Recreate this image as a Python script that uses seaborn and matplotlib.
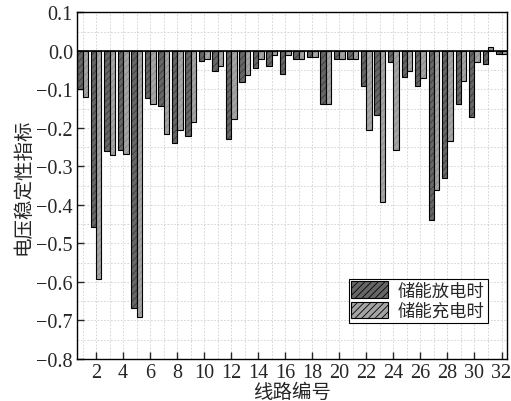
import numpy as np
import pandas as pd
import matplotlib
matplotlib.use("Agg")
import matplotlib.pyplot as plt
import seaborn as sns
from matplotlib.ticker import MultipleLocator

lines = list(range(1, 33))
discharge = [-0.098, -0.456, -0.261, -0.256, -0.667, -0.123, -0.144, -0.240, -0.222, -0.026,
             -0.051, -0.229, -0.081, -0.044, -0.039, -0.059, -0.020, -0.015, -0.139, -0.022,
             -0.020, -0.090, -0.167, -0.029, -0.068, -0.092, -0.439, -0.330, -0.138, -0.172,
             -0.033, -0.007]
charge = [-0.119, -0.593, -0.270, -0.267, -0.691, -0.138, -0.215, -0.205, -0.185, -0.020,
          -0.038, -0.177, -0.063, -0.022, -0.011, -0.010, -0.020, -0.015, -0.139, -0.022,
          -0.020, -0.205, -0.391, -0.257, -0.052, -0.071, -0.362, -0.235, -0.077, -0.029,
          0.010, -0.007]
series_names = ["储能放电时", "储能充电时"]

df = pd.DataFrame({
    "line": lines * 2,
    "value": discharge + charge,
    "case": [series_names[0]] * len(lines) + [series_names[1]] * len(lines),
})

sns.set_style("ticks")
plt.rcParams['font.family'] = ['Liberation Serif', 'Noto Sans CJK SC', 'DejaVu Sans']
plt.rcParams['hatch.linewidth'] = 0.6

fig = plt.figure(figsize=(5.11, 4.02), dpi=100)
ax = fig.add_axes([0.151, 0.1045, 0.841, 0.862])

palette = {series_names[0]: "#666666", series_names[1]: "#a4a4a4"}
sns.barplot(data=df, x="line", y="value", hue="case", palette=palette,
            native_scale=True, width=0.8, dodge=True, saturation=1,
            edgecolor="black", linewidth=0.8, ax=ax, errorbar=None)

hatch_colors = ["#3a3a3a", "#8a8a8a"]
for cont, hc in zip(ax.containers, hatch_colors):
    for p in cont:
        p.set_hatch("/////")
        p._hatch_color = matplotlib.colors.to_rgba(hc)

ax.axhline(0, color="black", lw=1.2, zorder=3)

ax.set_xlim(0.6, 32.4)
ax.set_ylim(-0.8, 0.1)
ax.xaxis.set_major_locator(MultipleLocator(2))
ax.xaxis.set_minor_locator(MultipleLocator(1))
ax.yaxis.set_major_locator(MultipleLocator(0.1))
ax.yaxis.set_minor_locator(MultipleLocator(0.05))
ax.yaxis.set_major_formatter(matplotlib.ticker.FuncFormatter(lambda v, p: f"{v:.1f}".replace("-", "\u2212")))
ax.grid(True, which="both", color="#cfcfcf", ls=(0, (2, 2)), lw=0.6)
ax.set_axisbelow(True)
ax.tick_params(which="major", direction="in", length=5, labelsize=14.5, width=1, pad=3)
ax.tick_params(which="minor", length=0)
for s in ax.spines.values():
    s.set_linewidth(1.0)
    s.set_color("black")

ax.set_xlabel("线路编号", fontsize=14, family=['Noto Sans CJK SC'], labelpad=-1)
ax.set_ylabel("电压稳定性指标", fontsize=14, family=['Noto Sans CJK SC'], labelpad=2)

leg = ax.legend(loc="lower right", bbox_to_anchor=(0.955, 0.105),
                frameon=True, fancybox=False, edgecolor="black", framealpha=1,
                handlelength=2.1, handleheight=1.1, borderpad=0.15, labelspacing=0.12,
                handletextpad=0.6, borderaxespad=0,
                prop={'family': ['Noto Sans CJK SC'], 'size': 12.5})
leg.get_frame().set_linewidth(0.8)
for h, hc in zip(leg.legend_handles, hatch_colors):
    h.set_hatch("/////")
    h._hatch_color = matplotlib.colors.to_rgba(hc)
    h.set_edgecolor("black")

fig.savefig("out.png", dpi=100)
